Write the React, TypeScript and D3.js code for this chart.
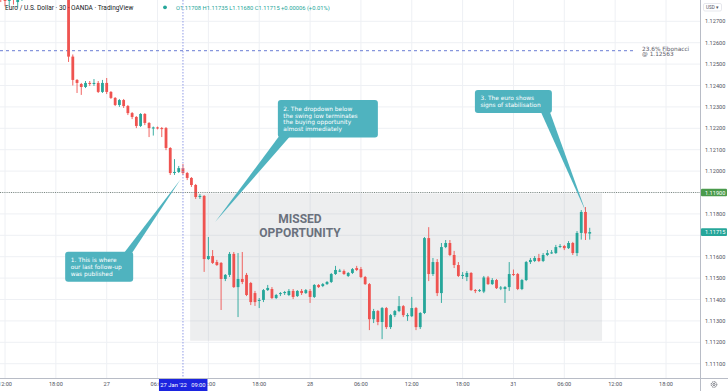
import React, { useEffect, useRef } from 'react';
import * as d3 from 'd3';

// EUR/USD 30m, OANDA — [open, high, low, close], first bar = 26 Jan 11:30
const candles: number[][] = [
  [1.12830, 1.12860, 1.12790, 1.12810],
  [1.12810, 1.12830, 1.12770, 1.12795],
  [1.12795, 1.12840, 1.12768, 1.12820],
  [1.12820, 1.12845, 1.12778, 1.12800],
  [1.12790, 1.12830, 1.12765, 1.12805],
  [1.12805, 1.12860, 1.12795, 1.12845],
  [1.12845, 1.12870, 1.12815, 1.12830],
  [1.12830, 1.12880, 1.12820, 1.12865],
  [1.12865, 1.12890, 1.12835, 1.12850],
  [1.12850, 1.12900, 1.12840, 1.12885],
  [1.12885, 1.12910, 1.12860, 1.12875],
  [1.12875, 1.12920, 1.12865, 1.12905],
  [1.12905, 1.12930, 1.12875, 1.12890],
  [1.12890, 1.12940, 1.12880, 1.12925],
  [1.12925, 1.12950, 1.12895, 1.12915],
  [1.12915, 1.12945, 1.12880, 1.12900],
  [1.12900, 1.12920, 1.12510, 1.12535],
  [1.12535, 1.12545, 1.12400, 1.12426],
  [1.12426, 1.12430, 1.12365, 1.12412],
  [1.12407, 1.12412, 1.12356, 1.12393],
  [1.12393, 1.12421, 1.12388, 1.12412],
  [1.12412, 1.12421, 1.12398, 1.12407],
  [1.12407, 1.12430, 1.12398, 1.12412],
  [1.12412, 1.12421, 1.12365, 1.12370],
  [1.12370, 1.12426, 1.12365, 1.12412],
  [1.12412, 1.12435, 1.12360, 1.12370],
  [1.12370, 1.12374, 1.12337, 1.12342],
  [1.12342, 1.12346, 1.12304, 1.12309],
  [1.12309, 1.12337, 1.12300, 1.12332],
  [1.12332, 1.12337, 1.12295, 1.12304],
  [1.12304, 1.12309, 1.12262, 1.12271],
  [1.12271, 1.12276, 1.12243, 1.12253],
  [1.12253, 1.12257, 1.12201, 1.12211],
  [1.12211, 1.12271, 1.12206, 1.12267],
  [1.12267, 1.12271, 1.12215, 1.12225],
  [1.12225, 1.12229, 1.12159, 1.12201],
  [1.12199, 1.12208, 1.12166, 1.12204],
  [1.12204, 1.12208, 1.12195, 1.12201],
  [1.12201, 1.12206, 1.12159, 1.12199],
  [1.12201, 1.12206, 1.12098, 1.12108],
  [1.12108, 1.12112, 1.11982, 1.11991],
  [1.11991, 1.12056, 1.11982, 1.11996],
  [1.11996, 1.12024, 1.11991, 1.12014],
  [1.12014, 1.12033, 1.11982, 1.11991],
  [1.11991, 1.11996, 1.11958, 1.11968],
  [1.11968, 1.11972, 1.11926, 1.11935],
  [1.11935, 1.11940, 1.11870, 1.11879],
  [1.11879, 1.11893, 1.11870, 1.11884],
  [1.11884, 1.11888, 1.11529, 1.11589],
  [1.11589, 1.11692, 1.11585, 1.11603],
  [1.11603, 1.11631, 1.11566, 1.11571],
  [1.11575, 1.11585, 1.11557, 1.11561],
  [1.11571, 1.11575, 1.11351, 1.11496],
  [1.11496, 1.11519, 1.11486, 1.11515],
  [1.11515, 1.11622, 1.11505, 1.11613],
  [1.11613, 1.11622, 1.11454, 1.11458],
  [1.11458, 1.11617, 1.11318, 1.11496],
  [1.11496, 1.11622, 1.11472, 1.11482],
  [1.11515, 1.11524, 1.11416, 1.11421],
  [1.11477, 1.11482, 1.11374, 1.11388],
  [1.11430, 1.11440, 1.11370, 1.11388],
  [1.11393, 1.11407, 1.11360, 1.11398],
  [1.11398, 1.11449, 1.11388, 1.11444],
  [1.11444, 1.11468, 1.11440, 1.11454],
  [1.11449, 1.11458, 1.11402, 1.11407],
  [1.11407, 1.11426, 1.11402, 1.11421],
  [1.11426, 1.11435, 1.11416, 1.11430],
  [1.11430, 1.11440, 1.11421, 1.11435],
  [1.11421, 1.11449, 1.11416, 1.11440],
  [1.11440, 1.11449, 1.11402, 1.11412],
  [1.11416, 1.11444, 1.11412, 1.11440],
  [1.11440, 1.11449, 1.11421, 1.11430],
  [1.11430, 1.11449, 1.11426, 1.11444],
  [1.11440, 1.11449, 1.11384, 1.11412],
  [1.11412, 1.11472, 1.11407, 1.11468],
  [1.11468, 1.11472, 1.11454, 1.11458],
  [1.11463, 1.11477, 1.11458, 1.11472],
  [1.11472, 1.11486, 1.11468, 1.11482],
  [1.11482, 1.11524, 1.11477, 1.11519],
  [1.11519, 1.11557, 1.11515, 1.11538],
  [1.11533, 1.11543, 1.11528, 1.11535],
  [1.11533, 1.11540, 1.11515, 1.11519],
  [1.11510, 1.11528, 1.11505, 1.11524],
  [1.11524, 1.11547, 1.11519, 1.11542],
  [1.11547, 1.11557, 1.11533, 1.11538],
  [1.11542, 1.11552, 1.11500, 1.11505],
  [1.11505, 1.11510, 1.11468, 1.11472],
  [1.11472, 1.11477, 1.11257, 1.11308],
  [1.11308, 1.11356, 1.11290, 1.11346],
  [1.11346, 1.11351, 1.11280, 1.11295],
  [1.11295, 1.11365, 1.11215, 1.11360],
  [1.11360, 1.11365, 1.11262, 1.11271],
  [1.11271, 1.11332, 1.11262, 1.11327],
  [1.11327, 1.11351, 1.11318, 1.11346],
  [1.11346, 1.11416, 1.11341, 1.11369],
  [1.11369, 1.11374, 1.11318, 1.11327],
  [1.11322, 1.11336, 1.11300, 1.11327],
  [1.11322, 1.11412, 1.11318, 1.11360],
  [1.11360, 1.11365, 1.11257, 1.11271],
  [1.11271, 1.11341, 1.11262, 1.11337],
  [1.11337, 1.11692, 1.11332, 1.11687],
  [1.11687, 1.11738, 1.11486, 1.11519],
  [1.11519, 1.11594, 1.11510, 1.11575],
  [1.11575, 1.11589, 1.11416, 1.11430],
  [1.11430, 1.11664, 1.11384, 1.11645],
  [1.11645, 1.11678, 1.11640, 1.11664],
  [1.11664, 1.11678, 1.11603, 1.11608],
  [1.11608, 1.11627, 1.11547, 1.11561],
  [1.11561, 1.11575, 1.11505, 1.11510],
  [1.11510, 1.11528, 1.11496, 1.11515],
  [1.11505, 1.11533, 1.11486, 1.11524],
  [1.11524, 1.11528, 1.11440, 1.11444],
  [1.11444, 1.11449, 1.11430, 1.11440],
  [1.11440, 1.11449, 1.11435, 1.11444],
  [1.11437, 1.11510, 1.11430, 1.11503],
  [1.11503, 1.11510, 1.11468, 1.11472],
  [1.11472, 1.11500, 1.11468, 1.11491],
  [1.11491, 1.11496, 1.11449, 1.11453],
  [1.11453, 1.11463, 1.11444, 1.11456],
  [1.11449, 1.11463, 1.11384, 1.11458],
  [1.11458, 1.11575, 1.11440, 1.11519],
  [1.11519, 1.11540, 1.11510, 1.11515],
  [1.11519, 1.11524, 1.11444, 1.11449],
  [1.11449, 1.11496, 1.11444, 1.11491],
  [1.11491, 1.11580, 1.11486, 1.11575],
  [1.11575, 1.11594, 1.11566, 1.11585],
  [1.11580, 1.11603, 1.11575, 1.11594],
  [1.11594, 1.11613, 1.11575, 1.11580],
  [1.11580, 1.11617, 1.11575, 1.11608],
  [1.11608, 1.11631, 1.11603, 1.11617],
  [1.11617, 1.11631, 1.11613, 1.11620],
  [1.11617, 1.11655, 1.11613, 1.11645],
  [1.11648, 1.11659, 1.11640, 1.11650],
  [1.11650, 1.11655, 1.11631, 1.11640],
  [1.11640, 1.11673, 1.11636, 1.11664],
  [1.11664, 1.11669, 1.11608, 1.11617],
  [1.11617, 1.11720, 1.11603, 1.11711],
  [1.11711, 1.11818, 1.11680, 1.11809],
  [1.11809, 1.11832, 1.11678, 1.11709],
  [1.11708, 1.11735, 1.11680, 1.11715],
];

const timeLabels = ['12:00', '18:00', '27', '06:00', '12:00', '18:00', '28', '06:00', '12:00', '18:00', '31', '06:00', '12:00', '18:00'];
const timeLabelBars = [1, 13, 25, 37, 49, 61, 73, 85, 97, 109, 121, 133, 145, 157];
const priceTicks = [1.111, 1.112, 1.113, 1.114, 1.115, 1.116, 1.117, 1.118, 1.119, 1.120, 1.121, 1.122, 1.123, 1.124, 1.125, 1.126, 1.127];

const fibLevel = 1.12563;
const fibLabel = ['23.6% Fibonacci', '@ 1.12563'];
const lineLevel = 1.119;
const crossBar = 43; // 27 Jan '22 09:00
const crossLabel = "27 Jan '22   09:00";
const zoneBars = [44.7, 141.9];
const zonePrices = [1.11207, 1.11896];
const zoneText = ['MISSED', 'OPPORTUNITY'];
const zoneTextAt = [70.6, 1.11757];

const calloutText = [
  ['1. This is where', 'our last follow-up', 'was published'],
  ['2. The dropdown below', 'the swing low terminates', 'the buying opportunity', 'almost immediately'],
  ['3. The euro shows', 'signs of stabilisation'],
];
const calloutAnchor = [[15.2, 1.11623], [65.4, 1.12332], [111.9, 1.12379]];
const calloutTip = [[42.5, 1.11963], [50.6, 1.11762], [138.1, 1.11809]];

const W = 728;
const H = 391;
const plotR = 700;
const plotB = 378;
const UP = '#26a69a';
const DOWN = '#ef5350';
const GRID = '#eef0f4';
const TXT = '#50535e';

function App() {
  const ref = useRef<SVGSVGElement>(null);

  function drawChart() {
    document.body.style.margin = '0';
    const svg = d3.select(ref.current).attr('width', W).attr('height', H).style('display', 'block');
    svg.selectAll('*').remove();

    const x = d3.scaleLinear().domain([1, 157]).range([5, 666]);
    const y = d3.scaleLinear().domain([1.111, 1.127]).range([363.7, 21.3]);
    const last = candles[candles.length - 1];

    svg.append('rect').attr('width', W).attr('height', H).attr('fill', '#fff');
    svg.append('defs').append('clipPath').attr('id', 'plot')
      .append('rect').attr('width', plotR).attr('height', plotB);

    const plot = svg.append('g').attr('clip-path', 'url(#plot)');

    // grid
    plot.selectAll('.hg').data(priceTicks).enter().append('line')
      .attr('x1', 0).attr('x2', plotR)
      .attr('y1', d => y(d)).attr('y2', d => y(d))
      .attr('stroke', GRID).attr('stroke-width', 1);
    plot.selectAll('.vg').data(timeLabelBars).enter().append('line')
      .attr('x1', d => x(d)).attr('x2', d => x(d))
      .attr('y1', 0).attr('y2', plotB)
      .attr('stroke', GRID).attr('stroke-width', 1);

    // missed opportunity zone
    plot.append('rect')
      .attr('x', x(zoneBars[0])).attr('width', x(zoneBars[1]) - x(zoneBars[0]))
      .attr('y', y(zonePrices[1])).attr('height', y(zonePrices[0]) - y(zonePrices[1]))
      .attr('fill', '#9598a1').attr('opacity', 0.17);

    // fibonacci line
    plot.append('line')
      .attr('x1', 0).attr('x2', 634)
      .attr('y1', y(fibLevel)).attr('y2', y(fibLevel))
      .attr('stroke', '#8796dc').attr('stroke-width', 1.2).attr('stroke-dasharray', '3,3');
    plot.selectAll('.fibt').data(fibLabel).enter().append('text')
      .attr('x', 642).attr('y', (d, i) => y(fibLevel) + i * 5.4)
      .attr('font-size', 5.8).attr('font-family', 'DejaVu Sans').attr('fill', '#5d606b')
      .text(d => d);

    // zone text
    plot.selectAll('.zt').data(zoneText).enter().append('text')
      .attr('x', x(zoneTextAt[0])).attr('y', (d, i) => y(zoneTextAt[1]) + i * 13.7)
      .attr('text-anchor', 'middle').attr('font-size', 12).attr('font-weight', 'bold')
      .attr('font-family', 'Roboto').attr('fill', '#6a717d')
      .text(d => d);

    // candles
    const g = plot.selectAll('.c').data(candles).enter().append('g');
    g.append('line')
      .attr('x1', (d, i) => x(i)).attr('x2', (d, i) => x(i))
      .attr('y1', d => y(d[1])).attr('y2', d => y(d[2]))
      .attr('stroke', d => d[3] >= d[0] ? UP : DOWN).attr('stroke-width', 0.9);
    g.append('rect')
      .attr('x', (d, i) => x(i) - 1.4).attr('width', 2.8)
      .attr('y', d => y(Math.max(d[0], d[3])))
      .attr('height', d => Math.max(1, Math.abs(y(d[0]) - y(d[3]))))
      .attr('fill', d => d[3] >= d[0] ? UP : DOWN);

    // horizontal level
    plot.append('line')
      .attr('x1', 0).attr('x2', plotR)
      .attr('y1', y(lineLevel)).attr('y2', y(lineLevel))
      .attr('stroke', '#5f6f63').attr('stroke-width', 0.8).attr('stroke-dasharray', '1,1.2');

    // vertical marker
    plot.append('line')
      .attr('x1', x(crossBar)).attr('x2', x(crossBar))
      .attr('y1', 0).attr('y2', plotB)
      .attr('stroke', '#8f9be6').attr('stroke-width', 1).attr('stroke-dasharray', '1.5,1.5');

    // callouts
    const sizes = [[68, 30], [100, 37.5], [77, 23]];
    const bases: [string, number, number][] = [['top', 59, 67], ['bottom', 1, 12], ['bottom', 66, 75]];
    calloutText.forEach((lines, k) => {
      const bx = x(calloutAnchor[k][0]);
      const by = y(calloutAnchor[k][1]);
      const [bw, bh] = sizes[k];
      const tx = x(calloutTip[k][0]);
      const ty = y(calloutTip[k][1]);
      const [edge, a, b] = bases[k];
      const ey = edge === 'top' ? by + 1 : by + bh - 1;
      const cg = plot.append('g');
      cg.append('path')
        .attr('d', `M${bx + a},${ey}L${tx},${ty}L${bx + b},${ey}Z`)
        .attr('fill', '#4fb3bf');
      cg.append('rect')
        .attr('x', bx).attr('y', by).attr('width', bw).attr('height', bh)
        .attr('rx', 3).attr('fill', '#4fb3bf');
      cg.selectAll('text').data(lines).enter().append('text')
        .attr('x', bx + 5.5)
        .attr('y', (d, i) => by + bh / 2 + (i - (lines.length - 1) / 2) * 6.8 + 2.1)
        .attr('font-size', 5.9).attr('font-family', 'DejaVu Sans').attr('fill', '#fff')
        .text(d => d);
    });

    // axes frame
    svg.append('line').attr('x1', plotR + 0.5).attr('x2', plotR + 0.5).attr('y1', 0).attr('y2', H)
      .attr('stroke', '#b8bcc6');
    svg.append('line').attr('x1', 0).attr('x2', W).attr('y1', plotB + 0.5).attr('y2', plotB + 0.5)
      .attr('stroke', '#b8bcc6');

    // price labels (the ones hidden under the badges are left out)
    const badgeVals = [lineLevel, last[3]];
    const shown = priceTicks.filter(t => badgeVals.every(b => Math.abs(y(t) - y(b)) > 7));
    svg.selectAll('.pl').data(shown).enter().append('text')
      .attr('x', 705).attr('y', d => y(d) + 2)
      .attr('font-size', 5.6).attr('font-family', 'Roboto').attr('fill', TXT)
      .text(d => d.toFixed(5));

    // time labels
    svg.selectAll('.tl').data(timeLabels).enter().append('text')
      .attr('x', (d, i) => x(timeLabelBars[i])).attr('y', 386)
      .attr('text-anchor', 'middle')
      .attr('font-size', 5.6).attr('font-family', 'Roboto').attr('fill', TXT)
      .text(d => d);

    // badges
    const badge = (val: number, fill: string) => {
      svg.append('rect').attr('x', 701).attr('y', y(val) - 3.8).attr('width', 26).attr('height', 7.6)
        .attr('rx', 1).attr('fill', fill);
      svg.append('text').attr('x', 705).attr('y', y(val) + 2)
        .attr('font-size', 5.6).attr('font-family', 'Roboto').attr('fill', '#fff')
        .text(val.toFixed(5));
    };
    badge(lineLevel, '#4a9a4c');
    badge(last[3], UP);

    const cx = x(crossBar);
    svg.append('rect').attr('x', cx - 24).attr('y', plotB + 1).attr('width', 48.5).attr('height', 12)
      .attr('fill', '#1c24e0');
    svg.append('text').attr('x', cx).attr('y', 386.5).attr('text-anchor', 'middle')
      .attr('font-size', 5.8).attr('font-family', 'Roboto').attr('fill', '#fff')
      .attr('xml:space', 'preserve').style('white-space', 'pre')
      .text(crossLabel);

    // USD button
    svg.append('rect').attr('x', 703.5).attr('y', 3.5).attr('width', 18).attr('height', 7.5)
      .attr('rx', 1.5).attr('fill', '#fff').attr('stroke', '#d6d9e0').attr('stroke-width', 0.6);
    svg.append('text').attr('x', 712.5).attr('y', 8.9).attr('text-anchor', 'middle')
      .attr('font-size', 4.6).attr('font-family', 'Roboto').attr('fill', TXT).text('USD ▾');

    // gear
    const gear = svg.append('g').attr('transform', 'translate(714,384.5)');
    gear.append('circle').attr('r', 2.8).attr('fill', 'none').attr('stroke', '#50535e')
      .attr('stroke-width', 0.9).attr('stroke-dasharray', '1.2,0.6');
    gear.append('circle').attr('r', 1.1).attr('fill', 'none').attr('stroke', '#50535e').attr('stroke-width', 0.7);

    // header
    const prev = candles[candles.length - 2][3];
    const chg = last[3] - prev;
    const pct = (chg / prev) * 100;
    svg.append('text').attr('x', 5).attr('y', 9.6)
      .attr('font-size', 6.5).attr('font-family', 'Roboto').attr('fill', '#131722')
      .text('Euro / U.S. Dollar · 30 · OANDA · TradingView');
    svg.append('circle').attr('cx', 165).attr('cy', 7.3).attr('r', 1.9).attr('fill', UP);
    svg.append('text').attr('x', 176).attr('y', 9.6)
      .attr('font-size', 5.8).attr('font-family', 'Roboto').attr('fill', UP)
      .text(`O${last[0].toFixed(5)} H${last[1].toFixed(5)} L${last[2].toFixed(5)} C${last[3].toFixed(5)} +${chg.toFixed(5)} (+${pct.toFixed(2)}%)`);
  }

  useEffect(() => {
    drawChart();
  }, []);

  return <svg ref={ref}></svg>;
}

export default App;
